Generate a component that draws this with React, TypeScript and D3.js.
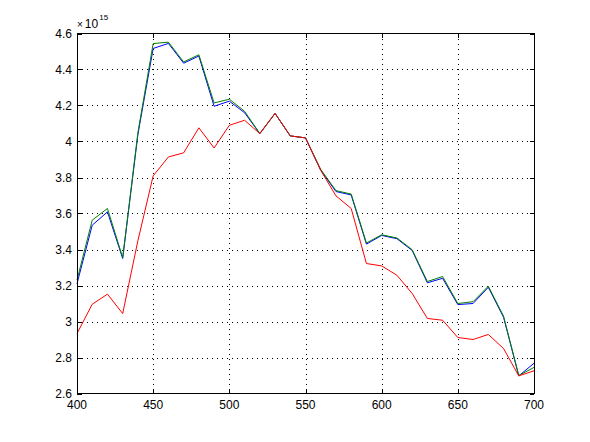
import React from "react";
import * as d3 from "d3";

const wavelengths = [400, 410, 420, 430, 440, 450, 460, 470, 480, 490, 500, 510, 520, 530, 540, 550, 560, 570, 580, 590, 600, 610, 620, 630, 640, 650, 660, 670, 680, 690, 700];

const blueSeries = [3.21, 3.535, 3.609, 3.35, 4.04, 4.517, 4.545, 4.435, 4.475, 4.196, 4.224, 4.16, 4.044, 4.156, 4.031, 4.02, 3.84, 3.722, 3.703, 3.43, 3.478, 3.46, 3.395, 3.215, 3.24, 3.094, 3.1, 3.19, 3.024, 2.698, 2.768];

const greenSeries = [3.23, 3.563, 3.628, 3.355, 4.05, 4.544, 4.552, 4.442, 4.482, 4.214, 4.235, 4.168, 4.044, 4.156, 4.031, 4.02, 3.845, 3.727, 3.708, 3.436, 3.482, 3.464, 3.399, 3.222, 3.25, 3.1, 3.11, 3.196, 3.03, 2.7, 2.745];

const redSeries = [2.933, 3.096, 3.152, 3.044, 3.45, 3.809, 3.914, 3.937, 4.076, 3.964, 4.09, 4.118, 4.044, 4.156, 4.031, 4.02, 3.84, 3.698, 3.628, 3.322, 3.309, 3.257, 3.156, 3.017, 3.007, 2.911, 2.9, 2.928, 2.85, 2.698, 2.726];

const xTicks = [400, 450, 500, 550, 600, 650, 700];
const yTicks = [2.6, 2.8, 3, 3.2, 3.4, 3.6, 3.8, 4, 4.2, 4.4, 4.6];

const W = 590;
const H = 442;
const L = 77;
const R = 534;
const T = 33.5;
const B = 393.5;
const FONT = "'Liberation Sans', Arial, Helvetica, sans-serif";

export default function App() {
  const x = d3.scaleLinear().domain([400, 700]).range([L, R]);
  const y = d3.scaleLinear().domain([2.6, 4.6]).range([B, T]);

  const line = (vals: number[]) =>
    d3
      .line<number>()
      .x((_, i) => x(wavelengths[i]))
      .y((d) => y(d))(vals) || "";

  const tickLen = 4.5;

  return (
    <div style={{ position: "fixed", left: 0, top: 0, width: W, height: H, background: "#fff" }}>
      <svg width={W} height={H} style={{ display: "block" }} fontFamily={FONT}>
        <rect x={0} y={0} width={W} height={H} fill="#fff" />
        {/* grid */}
        <g stroke="#000" strokeWidth={1} strokeDasharray="1,4" shapeRendering="crispEdges">
          {xTicks.slice(1, -1).map((t) => (
            <line key={"gx" + t} x1={Math.round(x(t)) + 0.5} x2={Math.round(x(t)) + 0.5} y1={T} y2={B} />
          ))}
          {yTicks.slice(1, -1).map((t) => (
            <line key={"gy" + t} x1={L} x2={R} y1={Math.round(y(t)) + 0.5} y2={Math.round(y(t)) + 0.5} />
          ))}
        </g>
        {/* data lines */}
        <g fill="none" strokeWidth={1}>
          <path d={line(blueSeries)} stroke="#0000ff" />
          <path d={line(greenSeries)} stroke="#008000" />
          <path d={line(redSeries)} stroke="#ff0000" />
        </g>
        {/* ticks */}
        <g stroke="#000" strokeWidth={1} shapeRendering="crispEdges">
          {xTicks.map((t) => {
            const px = Math.round(x(t)) + 0.5;
            return (
              <g key={"tx" + t}>
                <line x1={px} x2={px} y1={B} y2={B - tickLen} />
                <line x1={px} x2={px} y1={T} y2={T + tickLen} />
              </g>
            );
          })}
          {yTicks.map((t) => {
            const py = Math.round(y(t)) + 0.5;
            return (
              <g key={"ty" + t}>
                <line x1={L} x2={L + tickLen} y1={py} y2={py} />
                <line x1={R} x2={R - tickLen} y1={py} y2={py} />
              </g>
            );
          })}
        </g>
        {/* box */}
        <rect x={L + 0.5} y={T} width={R - L} height={B - T} fill="none" stroke="#000" strokeWidth={1} shapeRendering="crispEdges" />
        {/* tick labels */}
        <g fontSize={12} fill="#000">
          {xTicks.map((t) => (
            <text key={"lx" + t} x={x(t)} y={409} textAnchor="middle">
              {String(t)}
            </text>
          ))}
          {yTicks.map((t) => (
            <text key={"ly" + t} x={72} y={y(t) + 4.2} textAnchor="end">
              {String(Math.round(t * 10) / 10)}
            </text>
          ))}
        </g>
        {/* exponent */}
        <text x={77} y={28.3} fontSize={12} fill="#000">
          <tspan fontSize={10}>×</tspan>
          <tspan dx={2}>10</tspan>
          <tspan fontSize={8} dy={-8.5} dx={1}>15</tspan>
        </text>
      </svg>
    </div>
  );
}
